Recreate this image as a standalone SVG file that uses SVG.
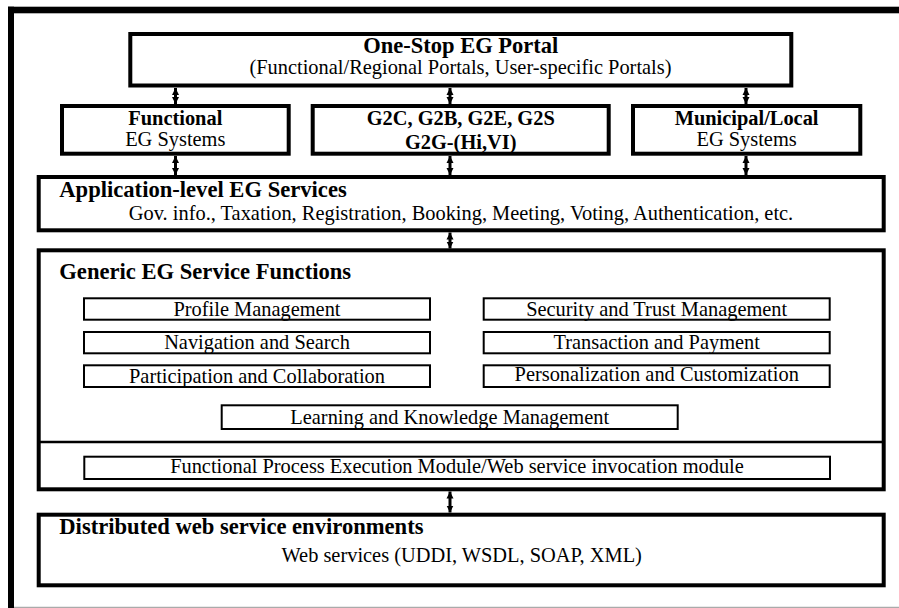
<svg xmlns="http://www.w3.org/2000/svg" width="899" height="608" viewBox="0 0 899 608">
  <style>
    text { font-family: "Liberation Serif", "Times New Roman", serif; fill: #000; }
    .b { font-weight: bold; }
    .t20 { font-size: 20.4px; }
    .t22 { font-size: 22.6px; }
    .mid { text-anchor: middle; }
    .box { fill: #fff; stroke: #000; stroke-width: 4; }
    .sub { fill: #fff; stroke: #000; stroke-width: 2; }
    .conn { stroke: #000; stroke-width: 3; fill: none; marker-start: url(#head); marker-end: url(#head); }
  </style>
  <defs>
    <marker id="head" viewBox="0 0 10 10" refX="10" refY="5" markerWidth="7" markerHeight="11" markerUnits="userSpaceOnUse" orient="auto-start-reverse">
      <path d="M0,0 L10,5 L0,10 Z" fill="#000"/>
    </marker>
  </defs>

  <rect width="899" height="608" fill="#fff"/>

  <!-- page frame -->
  <g id="frame">
    <rect x="8" y="6.7" width="891" height="6.6" fill="#000"/>
    <rect x="8" y="6.7" width="6" height="601.3" fill="#000"/>
    <line x1="14" y1="607.3" x2="899" y2="607.3" stroke="#aaa" stroke-width="1.2"/>
  </g>

  <!-- connectors -->
  <g id="connectors">
    <line class="conn" x1="175.5" y1="88" x2="175.5" y2="104"/>
    <line class="conn" x1="450" y1="88" x2="450" y2="104"/>
    <line class="conn" x1="746" y1="88" x2="746" y2="104"/>
    <line class="conn" x1="175.5" y1="156" x2="175.5" y2="175"/>
    <line class="conn" x1="450" y1="156" x2="450" y2="175"/>
    <line class="conn" x1="746" y1="156" x2="746" y2="175"/>
    <line class="conn" x1="450" y1="232.5" x2="450" y2="248.5"/>
    <line class="conn" x1="450" y1="491.5" x2="450" y2="512.5"/>
  </g>

  <g id="portal">
    <rect class="box" x="130.3" y="34" width="661" height="51.5"/>
    <text class="b mid" x="460.8" y="53" style="font-size:22.5px">One-Stop EG Portal</text>
    <text class="t20 mid" x="460.5" y="74">(Functional/Regional Portals, User-specific Portals)</text>
  </g>

  <g id="functional">
    <rect class="box" x="62" y="106" width="226.7" height="47.7"/>
    <text class="b t20 mid" x="175.3" y="125">Functional</text>
    <text class="t20 mid" x="175.3" y="146">EG Systems</text>
  </g>

  <g id="g2x">
    <rect class="box" x="312.7" y="106" width="296" height="47.7"/>
    <text class="b t20 mid" x="460.7" y="125">G2C, G2B, G2E, G2S</text>
    <text class="b t20 mid" x="460.7" y="148.5">G2G-(Hi,VI)</text>
  </g>

  <g id="municipal">
    <rect class="box" x="633" y="106" width="227.3" height="47.7"/>
    <text class="b t20 mid" x="746.6" y="125">Municipal/Local</text>
    <text class="t20 mid" x="746.6" y="146">EG Systems</text>
  </g>

  <g id="application">
    <rect class="box" x="38.7" y="177" width="845" height="53.3"/>
    <text class="b t22" x="59.3" y="197">Application-level EG Services</text>
    <text class="t20 mid" x="461" y="220">Gov. info., Taxation, Registration, Booking, Meeting, Voting, Authentication, etc.</text>
  </g>

  <g id="generic">
    <rect class="box" x="38.7" y="250.3" width="845" height="239"/>
    <line x1="38.7" y1="442" x2="883.7" y2="442" stroke="#000" stroke-width="2.6"/>
    <text class="b t22" x="59.3" y="279">Generic EG Service Functions</text>

    <g id="profile">
      <rect class="sub" x="84" y="298.3" width="346" height="21.4"/>
      <text class="t20 mid" x="257" y="315.7">Profile Management</text>
    </g>
    <g id="navigation">
      <rect class="sub" x="84" y="332" width="346" height="21.3"/>
      <text class="t20 mid" x="257" y="349.3">Navigation and Search</text>
    </g>
    <g id="participation">
      <rect class="sub" x="84" y="365.3" width="346" height="21.7"/>
      <text class="t20 mid" x="257" y="382.7">Participation and Collaboration</text>
    </g>
    <g id="security">
      <rect class="sub" x="483.7" y="298.3" width="346" height="21.4"/>
      <text class="t20 mid" x="656.7" y="316">Security and Trust Management</text>
    </g>
    <g id="transaction">
      <rect class="sub" x="483.7" y="332" width="346" height="21.3"/>
      <text class="t20 mid" x="656.7" y="349.3">Transaction and Payment</text>
    </g>
    <g id="personalization">
      <rect class="sub" x="483.7" y="365.3" width="346" height="21.7"/>
      <text class="t20 mid" x="656.7" y="381">Personalization and Customization</text>
    </g>
    <g id="learning">
      <rect class="sub" x="221.7" y="405.3" width="456" height="23.7"/>
      <text class="t20 mid" x="449.7" y="424">Learning and Knowledge Management</text>
    </g>
    <g id="execution">
      <rect class="sub" x="84.3" y="456.7" width="745.7" height="22.3"/>
      <text class="t20 mid" x="457" y="473.3">Functional Process Execution Module/Web service invocation module</text>
    </g>
  </g>

  <g id="distributed">
    <rect class="box" x="38.7" y="514.7" width="845" height="70.6"/>
    <text class="b t22" x="59.3" y="534.3">Distributed web service environments</text>
    <text class="t20 mid" x="461.7" y="562.3">Web services (UDDI, WSDL, SOAP, XML)</text>
  </g>
</svg>
